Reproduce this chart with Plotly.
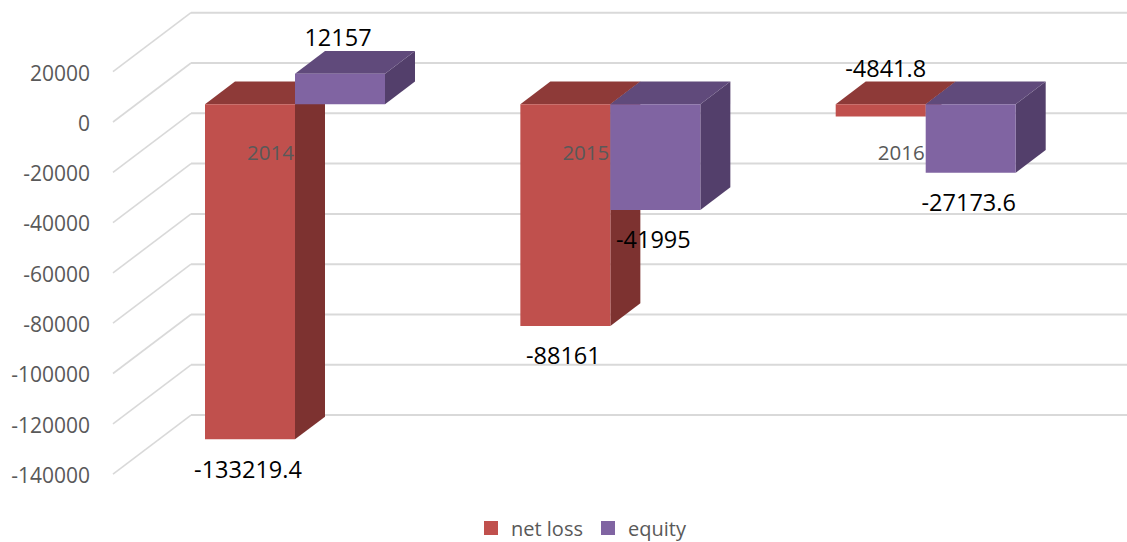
import plotly.graph_objects as go

years = ["2014", "2015", "2016"]
net_loss = [-133219.4, -88161, -4841.8]
equity = [12157, -41995, -27173.6]
y_ticks = [20000, 0, -20000, -40000, -60000, -80000, -100000, -120000, -140000]

W, H = 1127, 542
FONT = "Open Sans, Noto Sans, sans-serif"
GRID = "#d9d9d9"
TXT = "#595959"

# Oblique projection, in x-axis units (px) and px converted to value units
PX_PER_UNIT = 0.002515
ZERO_PX = 123.5
px = lambda n: n / PX_PER_UNIT
Y_TOP = px(ZERO_PX)
Y_BOT = px(ZERO_PX - H)
LEFT = 100
WALL_X0, WALL_X1 = 113, 191
WALL_LIFT = px(1.5)
WALL_RISE = px(59)
BAR_LIFT = px(19.2)
DEPTH_X, DEPTH_Y = 30, px(22.7)
BAR_W = 90
GROUP_X0 = 205
GROUP_STEP = 315.35

fig = go.Figure()

def line(xs, ys, w):
    fig.add_trace(go.Scatter(x=xs, y=ys, mode="lines", line=dict(color=GRID, width=w),
                             hoverinfo="skip", showlegend=False))

for v in y_ticks:
    front = v + WALL_LIFT
    line([WALL_X0, WALL_X1], [front, front + WALL_RISE], 1.6)
    line([WALL_X1, W], [front + WALL_RISE, front + WALL_RISE], 2)

def poly(xs, ys, color):
    fig.add_trace(go.Scatter(x=xs, y=ys, mode="lines", fill="toself", fillcolor=color,
                             line=dict(width=0, color=color), hoverinfo="skip", showlegend=False))

def box(x0, value, front, top, side):
    x1 = x0 + BAR_W
    hi = max(value, 0) + BAR_LIFT
    lo = min(value, 0) + BAR_LIFT
    poly([x1, x1 + DEPTH_X, x1 + DEPTH_X, x1, x1],
         [hi, hi + DEPTH_Y, lo + DEPTH_Y, lo, hi], side)
    poly([x0, x0 + DEPTH_X, x1 + DEPTH_X, x1, x0],
         [hi, hi + DEPTH_Y, hi + DEPTH_Y, hi, hi], top)
    poly([x0, x1, x1, x0, x0], [hi, hi, lo, lo, hi], front)

RED = ("#C0504D", "#8E3A38", "#7D3230")
PURPLE = ("#8064A2", "#604A7B", "#533F6B")

for i in range(len(years)):
    gx = GROUP_X0 + i * GROUP_STEP
    box(gx, net_loss[i], *RED)
    box(gx + BAR_W, equity[i], *PURPLE)

# category labels
fig.add_trace(go.Scatter(
    x=[GROUP_X0 + i * GROUP_STEP + BAR_W - 24.5 for i in range(len(years))],
    y=[px(-31)] * len(years), mode="text", text=years,
    textfont=dict(family=FONT, size=20.5, color=TXT), textposition="middle center",
    hoverinfo="skip", showlegend=False))

# value labels
lab_x, lab_y, lab_t = [], [], []
for i in range(len(years)):
    gx = GROUP_X0 + i * GROUP_STEP
    for j, (vals, shift) in enumerate(((net_loss, -2), (equity, -2))):
        v = vals[i]
        cx = gx + BAR_W * j + BAR_W / 2 + shift
        if v > 0:
            y = v + BAR_LIFT + px(34)
        elif i == 2 and j == 0:
            y = BAR_LIFT + px(33.5)
            cx += 7
        else:
            y = v + BAR_LIFT - px(32.5)
        lab_x.append(cx); lab_y.append(y); lab_t.append(f"{v:g}" if abs(v) < 100000 else f"{v:.1f}")
fig.add_trace(go.Scatter(x=lab_x, y=lab_y, mode="text", text=lab_t,
                         textfont=dict(family=FONT, size=23.5, color="#000000"),
                         textposition="middle center", hoverinfo="skip", showlegend=False))

# legend entries
for name, c in (("net loss", RED[0]), ("equity", PURPLE[0])):
    fig.add_trace(go.Scatter(x=[None], y=[None], mode="markers", name=name,
                             marker=dict(symbol="square", size=14, color=c)))

fig.update_layout(
    width=W, height=H, autosize=False,
    margin=dict(l=LEFT, r=0, t=0, b=0, autoexpand=False),
    paper_bgcolor="white", plot_bgcolor="white",
    xaxis=dict(range=[LEFT, W], visible=False, fixedrange=True),
    yaxis=dict(range=[Y_BOT, Y_TOP], tickvals=y_ticks, ticktext=[str(v) for v in y_ticks],
               showgrid=False, zeroline=False, showline=False, ticks="", ticklabelstandoff=9,
               tickfont=dict(family=FONT, size=21, color=TXT), fixedrange=True),
    legend=dict(orientation="h", x=(471 - LEFT) / (W - LEFT), xanchor="left", y=14 / H, yanchor="middle",
                font=dict(family=FONT, size=20, color=TXT), bgcolor="rgba(0,0,0,0)", itemwidth=30,
                entrywidth=72, entrywidthmode="pixels", tracegroupgap=0),
    showlegend=True,
)

fig.write_html("out.html", config={"displayModeBar": False},
               post_script="document.body.style.margin='0';")
